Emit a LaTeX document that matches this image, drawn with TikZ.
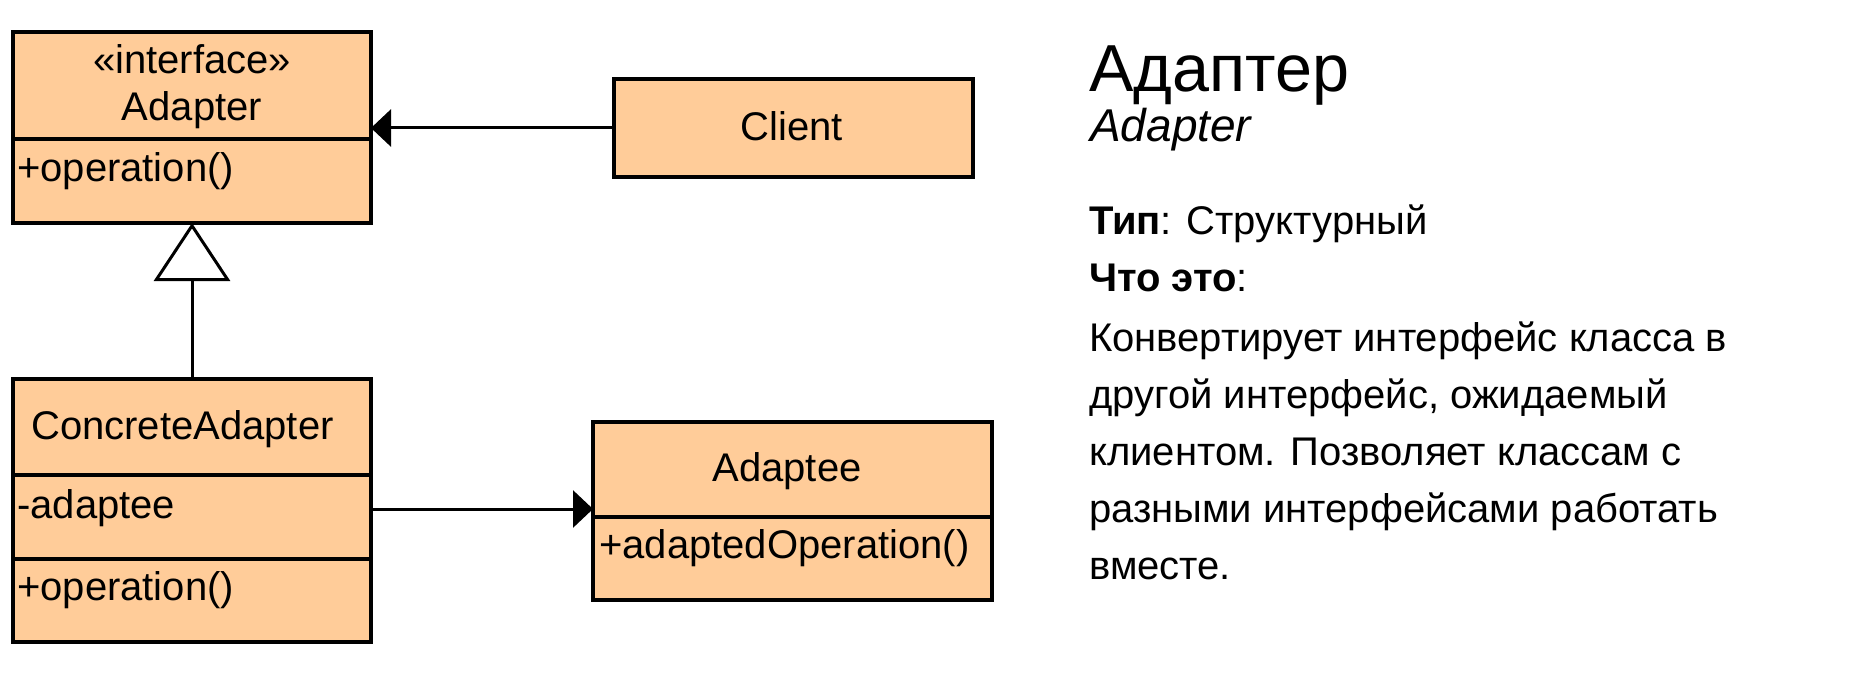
\documentclass[tikz,border=0pt]{standalone}
\usepackage{fontspec}
\setmainfont{Liberation Sans}
\usetikzlibrary{arrows.meta}
\definecolor{peach}{HTML}{FFCC99}
\begin{document}
\begin{tikzpicture}[x=1pt,y=-1pt,
  box/.style={draw=black, line width=4pt, fill=peach, inner sep=0pt, outer sep=0pt, anchor=north west},
  divider/.style={line width=4pt},
  conn/.style={line width=3pt},
  boxtext/.style={inner sep=0pt, font=\fontsize{40}{46}\selectfont},
  bodytext/.style={inner sep=0pt, anchor=base west, font=\fontsize{40}{46}\selectfont},
]
\useasboundingbox (0,0) rectangle (1859,698);
% boxes
\node[box, minimum width=358pt, minimum height=191pt] (adapter) at (13,32) {};
\node[box, minimum width=359pt, minimum height=98pt] (client) at (614,79) {};
\node[box, minimum width=358pt, minimum height=263pt] (concrete) at (13,379) {};
\node[box, minimum width=399pt, minimum height=178pt] (adaptee) at (593,422) {};
% dividers
\draw[divider] (adapter.west |- 0,139) -- (adapter.east |- 0,139);
\draw[divider] (concrete.west |- 0,475) -- (concrete.east |- 0,475);
\draw[divider] (concrete.west |- 0,559) -- (concrete.east |- 0,559);
\draw[divider] (adaptee.west |- 0,517) -- (adaptee.east |- 0,517);
% box texts
\node[boxtext, anchor=base] (t1) at (192,74) {«interface»};
\node[boxtext, anchor=base] (t2) at (192,121) {Adapter};
\node[boxtext, anchor=base west] (t3) at (17,181) {+operation()};
\node[boxtext, anchor=base] (t4) at (792,140) {Client};
\node[boxtext, anchor=base west] (t5) at (31,439) {ConcreteAdapter};
\node[boxtext, anchor=base west] (t6) at (17,518) {-adaptee};
\node[boxtext, anchor=base west] (t7) at (17,600) {+operation()};
\node[boxtext, anchor=base] (t8) at (787,481) {Adaptee};
\node[boxtext, anchor=base west] (t9) at (599,558) {+adaptedOperation()};
% connectors
\draw[conn, -{Triangle[length=20pt, width=37pt]}] (client.west) -- (adapter.east |- client.west);
\draw[conn, -{Triangle[open, length=58pt, width=76pt, fill=white]}] (concrete.north) -- (adapter.south);
\coordinate (assoc) at (0,509);
\draw[conn, -{Triangle[length=20pt, width=37pt]}] (concrete.east |- assoc) -- (adaptee.west |- assoc);
% right text
\node[inner sep=0pt, anchor=base west, font=\fontsize{66.5}{76}\selectfont] (title) at (1089,92) {Адаптер};
\node[inner sep=0pt, anchor=base west, font=\fontsize{46}{52}\selectfont\itshape] (subtitle) at (1090,142) {Adapter};
\node[bodytext] (type) at (1089,234) {\textbf{Тип}: Структурный};
\node[bodytext] (what) at (1089,291) {\textbf{Что это}:};
\node[bodytext] (l1) at (1089,351) {Конвертирует интерфейс класса в};
\node[bodytext] (l2) at (1089,408) {другой интерфейс, ожидаемый};
\node[bodytext] (l3) at (1089,465) {клиентом. Позволяет классам с};
\node[bodytext] (l4) at (1089,522) {разными интерфейсами работать};
\node[bodytext] (l5) at (1089,579) {вместе.};
\end{tikzpicture}
\end{document}
